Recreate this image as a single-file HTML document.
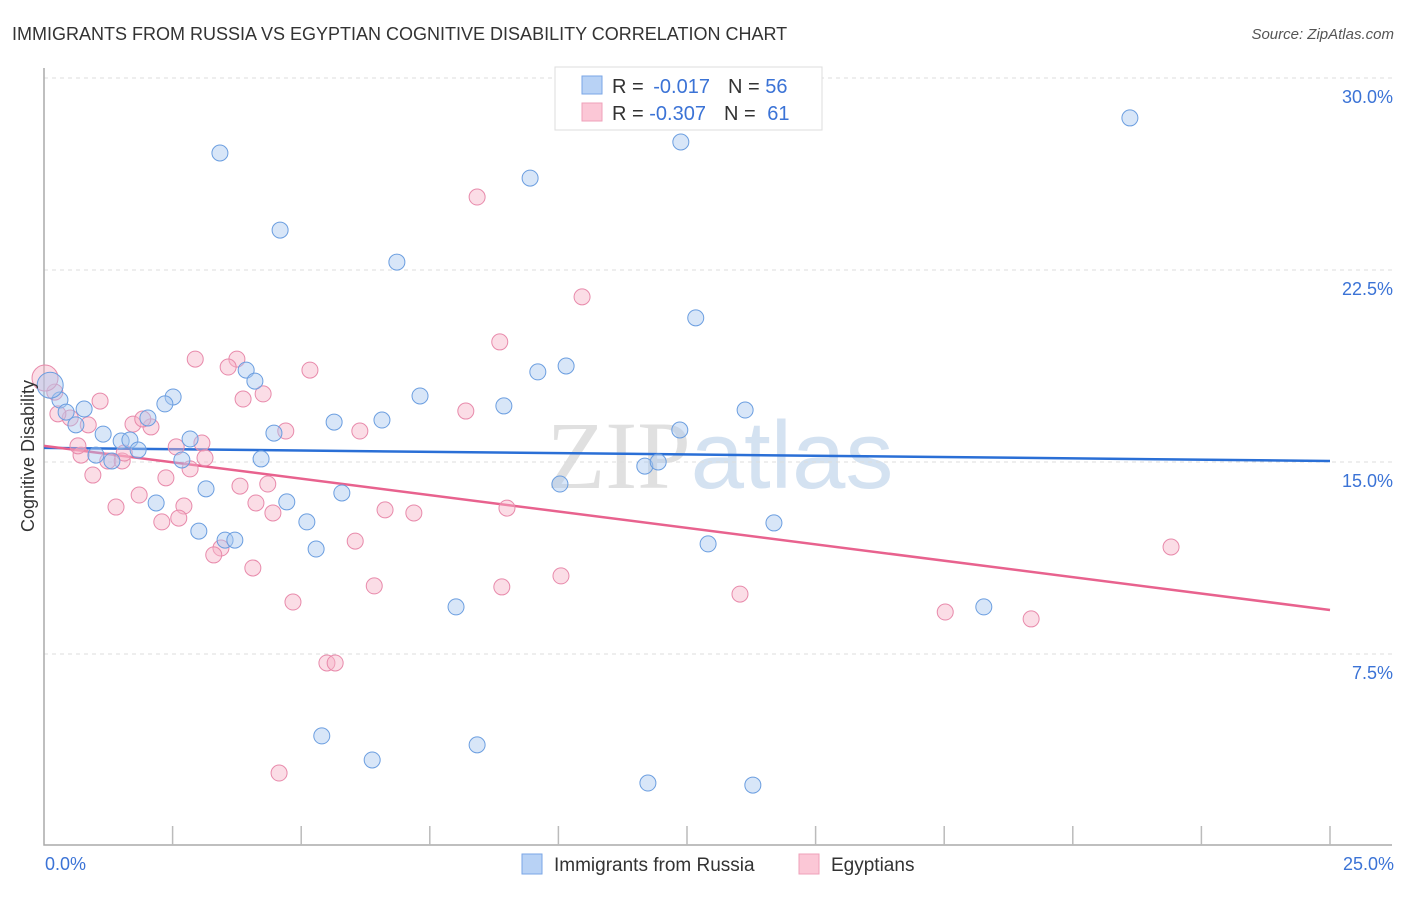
<!DOCTYPE html>
<html><head><meta charset="utf-8"><style>
body{margin:0;background:#fff;font-family:"Liberation Sans",sans-serif;}
svg text{font-family:"Liberation Sans",sans-serif;}
</style></head><body>
<svg id="chart" width="1406" height="892" xmlns="http://www.w3.org/2000/svg">
<text x="12" y="40" font-size="18" fill="#333">IMMIGRANTS FROM RUSSIA VS EGYPTIAN COGNITIVE DISABILITY CORRELATION CHART</text>
<text x="1394" y="39" font-size="15" fill="#555" font-style="italic" text-anchor="end">Source: ZipAtlas.com</text>
<text x="720" y="488" font-size="96" text-anchor="middle" fill="#d8d8d8" opacity="0.6"><tspan font-family="Liberation Serif" fill="#ccc">ZIP</tspan><tspan fill="#b8cfe8">atlas</tspan></text>
<g id="grid"></g><g id="axes"></g><g id="lines"></g><g id="points"></g>
<text transform="translate(34,456) rotate(-90)" font-size="18" fill="#333" text-anchor="middle">Cognitive Disability</text>
<g>
<rect x="555" y="67" width="267" height="63" fill="#fff" stroke="#ddd"/>
<rect x="582" y="76" width="20" height="18" fill="#b8d2f5" stroke="#7aa6e6"/>
<rect x="582" y="103" width="20" height="18" fill="#fbc7d6" stroke="#efa0ba"/>
<text x="612" y="93" font-size="20" fill="#333">R = <tspan fill="#3b73d6" dx="4">-0.017</tspan><tspan dx="18" fill="#333">N = </tspan><tspan fill="#3b73d6">56</tspan></text>
<text x="612" y="120" font-size="20" fill="#333">R = <tspan fill="#3b73d6">-0.307</tspan><tspan dx="18" fill="#333">N = </tspan><tspan fill="#3b73d6" dx="6">61</tspan></text>
</g>
<g>
<rect x="522" y="854" width="20" height="20" fill="#b8d2f5" stroke="#7aa6e6"/>
<text x="554" y="871" font-size="19" fill="#333">Immigrants from Russia</text>
<rect x="799" y="854" width="20" height="20" fill="#fbc7d6" stroke="#efa0ba"/>
<text x="831" y="871" font-size="19" fill="#333">Egyptians</text>
</g>
</svg>
<script>
const yTicks=[7.5,15,22.5,30];
const yTickLabels=["7.5%","15.0%","22.5%","30.0%"];
const xTickLabels=["0.0%","25.0%"];
const russiaX=[3.42,4.59,6.86,9.45,12.38,21.11,12.67,10.15,9.60,7.31,8.94,3.93,4.10,2.51,2.35,2.02,0.78,0.31,0.43,0.62,1.15,1.50,1.67,1.83,1.01,1.32,2.84,2.68,4.22,4.47,5.64,6.57,13.63,12.36,11.68,11.94,10.03,3.15,2.18,4.72,5.79,5.11,5.29,3.01,3.52,3.71,12.91,14.19,8.01,18.27,5.40,8.42,6.38,11.74,13.78,0.12];
const russiaY=[27.07,24.06,22.81,26.09,27.5,28.44,20.63,18.75,18.52,17.58,17.19,18.59,18.16,17.54,17.27,16.72,17.07,17.42,16.95,16.45,16.09,15.82,15.86,15.47,15.27,15.04,15.90,15.08,15.12,16.13,16.56,16.64,17.03,16.25,14.84,15.0,14.14,13.95,13.40,13.44,13.79,12.66,11.60,12.30,11.95,11.95,11.80,12.62,9.34,9.34,4.30,3.95,3.36,2.46,2.38,18.0];
const egyptX=[8.42,10.46,8.86,2.94,3.75,3.58,5.17,3.87,4.26,8.20,6.14,4.70,9.00,6.63,7.19,4.45,4.12,3.81,4.35,2.37,2.72,2.62,2.29,1.85,1.40,0.95,0.72,0.66,1.24,1.52,1.56,1.73,2.08,1.92,1.09,0.86,0.51,0.27,0.21,0.02,2.57,3.07,2.84,3.13,3.44,3.30,4.06,6.05,6.42,8.90,10.05,13.53,17.52,19.19,21.91,4.84,5.50,5.66,4.57];
const egyptY=[25.35,21.45,19.69,19.02,19.02,18.71,18.59,17.46,17.66,16.99,16.21,16.21,13.20,13.13,13.01,13.01,13.40,14.06,14.14,14.38,13.28,12.81,12.66,13.71,13.24,14.49,15.27,15.63,15.04,15.04,15.35,16.48,16.37,16.68,17.38,16.45,16.72,16.88,17.73,18.28,15.59,15.74,14.73,15.16,11.64,11.37,10.86,11.91,10.16,10.12,10.55,9.84,9.14,8.87,11.68,9.53,7.15,7.15,2.85];
const russiaTrend=[15.55,15.04];
const egyptTrend=[15.63,9.22];
const NS="http://www.w3.org/2000/svg";
const X0=44,X1=1330,Y0=846,PPY=25.6;
function sx(v){return X0+(X1-X0)*v/25;}
function sy(v){return Y0-v*PPY;}
function mk(tag,attrs,parent){const e=document.createElementNS(NS,tag);for(const k in attrs)e.setAttribute(k,attrs[k]);parent.appendChild(e);return e;}
const grid=document.getElementById('grid'),axes=document.getElementById('axes'),lines=document.getElementById('lines'),pts=document.getElementById('points');
yTicks.forEach((t,i)=>{
 const l=mk('line',{x1:44,x2:1392,y1:sy(t),y2:sy(t),stroke:'#ddd','stroke-dasharray':'4,4'},grid);
 
 
 const tx=mk('text',{x:1393,y:sy(t)+25,'font-size':18,fill:'#3b73d6','text-anchor':'end'},grid);
 tx.textContent=yTickLabels[i];
 
 
});
const ax=mk('path',{d:'M44,68 V845 H1392',fill:'none',stroke:'#aaa','stroke-width':1.5},axes);


for(let i=1;i<=10;i++){
 const t=mk('line',{x1:sx(i*2.5),x2:sx(i*2.5),y1:826,y2:845,stroke:'#bbb','stroke-width':1.5},axes);
 
 
}
[[0,'start',45],[25,'end',1394]].forEach((a,i)=>{
 const tx=mk('text',{x:a[2],y:870,'font-size':18,fill:'#3b73d6','text-anchor':a[1]},axes);
 tx.textContent=xTickLabels[i];
 
 
});
function drawSeries(xs,ys,fill,stroke,name){
 xs.forEach((x,i)=>{
  const big=(i===xs.length-1&&x<0.2)||(name==='egyptians-point'&&x<0.05);
  const c=mk('circle',{cx:sx(x),cy:sy(ys[i]),r:big?13:8,fill:fill,'fill-opacity':0.45,stroke:stroke,'stroke-width':1},pts);
  
  
 });
}
drawSeries(egyptX,egyptY,'#f7b3c8','#e88aab','egyptians-point');
drawSeries(russiaX,russiaY,'#a9c8f0','#6b9ee0','russia-point');
const l1=mk('line',{x1:sx(0),y1:sy(russiaTrend[0]),x2:sx(25),y2:sy(russiaTrend[1]),stroke:'#2a6fd6','stroke-width':2.5},lines);


const l2=mk('line',{x1:sx(0),y1:sy(egyptTrend[0]),x2:sx(25),y2:sy(egyptTrend[1]),stroke:'#e8628e','stroke-width':2.5},lines);


</script>
</body></html>
